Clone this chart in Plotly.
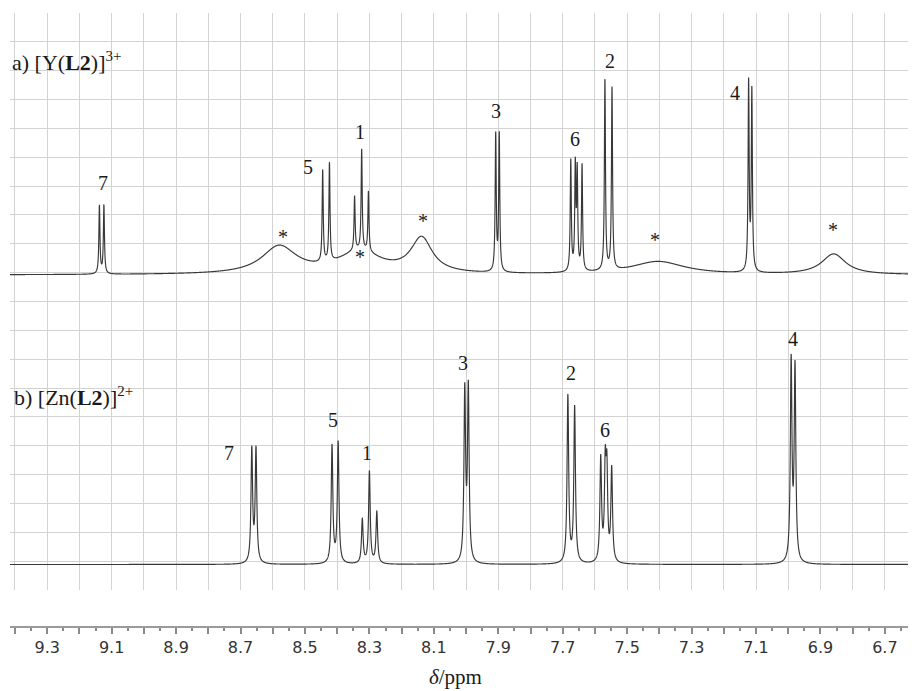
import numpy as np
import plotly.graph_objects as go

# ---------------- data ----------------
# chemical-shift axis
x_range = [9.4155, 6.6035]
tick_vals = [9.4, 9.3, 9.2, 9.1, 9.0, 8.9, 8.8, 8.7, 8.6, 8.5, 8.4, 8.3, 8.2, 8.1,
             8.0, 7.9, 7.8, 7.7, 7.6, 7.5, 7.4, 7.3, 7.2, 7.1, 7.0, 6.9, 6.8, 6.7]
tick_text = ["", "9.3", "", "9.1", "", "8.9", "", "8.7", "", "8.5", "", "8.3", "", "8.1",
             "", "7.9", "", "7.7", "", "7.5", "", "7.3", "", "7.1", "", "6.9", "", "6.7"]
minor_tick_vals = [9.35, 9.25, 9.15, 9.05, 8.95, 8.85, 8.75, 8.65, 8.55, 8.45, 8.35, 8.25,
                   8.15, 8.05, 7.95, 7.85, 7.75, 7.65, 7.55, 7.45, 7.35, 7.25, 7.15, 7.05,
                   6.95, 6.85, 6.75, 6.65]

# spectrum a) [Y(L2)]3+  (intensity in grid units)
a_baseline = 10.92
a_peak_ppm = [9.138, 9.124, 8.445, 8.424, 8.346, 8.324, 8.303, 7.908, 7.897,
              7.675, 7.661, 7.655, 7.640, 7.569, 7.547, 7.123, 7.113]
a_peak_top = [13.35, 13.35, 14.58, 14.83, 13.67, 15.29, 13.83, 15.89, 15.89,
              14.96, 15.02, 14.83, 14.79, 17.71, 17.45, 17.77, 17.47]
a_linewidth = 0.002
a_broad_ppm = [8.58, 8.33, 8.138, 7.404, 6.859]
a_broad_amp = [0.95, 0.75, 1.20, 0.45, 0.71]
a_broad_width = [0.065, 0.08, 0.040, 0.10, 0.045]

# spectrum b) [Zn(L2)]2+
b_baseline = 0.884
b_peak_ppm = [8.665, 8.652, 8.416, 8.397, 8.322, 8.300, 8.277, 8.004, 7.993,
              7.684, 7.663, 7.582, 7.568, 7.563, 7.548, 6.991, 6.979]
b_peak_top = [5.00, 5.00, 5.06, 5.18, 2.49, 4.14, 2.74, 7.20, 7.28,
              6.78, 6.41, 4.71, 5.00, 4.85, 4.33, 8.18, 7.97]
b_linewidth = 0.003

# peak assignments
a_labels = ["7", "5", "1", "3", "6", "2", "4"]
a_label_ppm = [9.128, 8.490, 8.329, 7.908, 7.661, 7.552, 7.164]
a_label_y = [14.12, 14.67, 15.87, 16.60, 15.62, 18.35, 17.24]
a_star_ppm = [8.569, 8.329, 8.135, 7.413, 6.861]
a_star_y = [12.36, 11.67, 12.94, 12.28, 12.63]
b_labels = ["7", "5", "1", "3", "2", "6", "4"]
b_label_ppm = [8.735, 8.412, 8.307, 8.010, 7.675, 7.568, 6.985]
b_label_y = [4.74, 5.89, 4.76, 7.86, 7.53, 5.55, 8.69]


# ---------------- line-shape synthesis ----------------
def lorentz(x, x0, w):
    return 1.0 / (1.0 + ((x - x0) / w) ** 2)


x = np.linspace(x_range[0], x_range[1], 16000)


def spectrum(baseline, ppm, top, w, b_ppm=(), b_amp=(), b_w=()):
    ppm = np.asarray(ppm)
    top = np.asarray(top)

    def broad(xx):
        out = np.zeros_like(np.asarray(xx, dtype=float))
        for c, a, bw in zip(b_ppm, b_amp, b_w):
            out = out + a * lorentz(xx, c, bw)
        return out

    A = lorentz(ppm[:, None], ppm[None, :], w)
    amps = np.linalg.solve(A, top - baseline - broad(ppm))
    y = baseline + broad(x)
    for c, a in zip(ppm, amps):
        y = y + a * lorentz(x, c, w)
    return y


ya = spectrum(a_baseline, a_peak_ppm, a_peak_top, a_linewidth,
              a_broad_ppm, a_broad_amp, a_broad_width)
yb = spectrum(b_baseline, b_peak_ppm, b_peak_top, b_linewidth)

line_color = "#383838"
grid_color = "#d3d3d3"
serif = "Liberation Serif"

fig = go.Figure()
fig.add_trace(go.Scatter(x=x, y=ya, mode="lines", line=dict(color=line_color, width=1.15, simplify=False),
                         showlegend=False, hoverinfo="skip"))
fig.add_trace(go.Scatter(x=x, y=yb, mode="lines", line=dict(color=line_color, width=1.15, simplify=False),
                         showlegend=False, hoverinfo="skip"))

ann = []
for t, px, py in zip(a_labels, a_label_ppm, a_label_y):
    ann.append(dict(x=px, y=py, text=t, showarrow=False, xanchor="center", yanchor="middle",
                    font=dict(family=serif, size=20, color="#1a1a1a")))
for px, py in zip(a_star_ppm, a_star_y):
    ann.append(dict(x=px, y=py, text="*", showarrow=False, xanchor="center", yanchor="middle",
                    yshift=-4, font=dict(family=serif, size=20, color="#1a1a1a")))
for t, px, py in zip(b_labels, b_label_ppm, b_label_y):
    ann.append(dict(x=px, y=py, text=t, showarrow=False, xanchor="center", yanchor="middle",
                    font=dict(family=serif, size=20, color="#1a1a1a")))
ann.append(dict(xref="paper", x=0.0, y=18.31,
                text="a) [Y(<b>L2</b>)]<sup><span style='font-size:15px'>3+</span></sup>",
                showarrow=False, xanchor="left", yanchor="middle",
                font=dict(family=serif, size=22, color="#1a1a1a")))
ann.append(dict(xref="paper", x=0.002, y=6.70,
                text="b) [Zn(<b>L2</b>)]<sup><span style='font-size:15px'>2+</span></sup>",
                showarrow=False, xanchor="left", yanchor="middle",
                font=dict(family=serif, size=22, color="#1a1a1a")))
ann.append(dict(xref="paper", yref="paper", x=0.4917, y=-0.0814, text="<i>δ</i>/ppm", showarrow=False,
                xanchor="center", yanchor="middle", font=dict(family=serif, size=21, color="#1a1a1a")))

# the page body adds an 8 px offset, so the figure is 8 px smaller each way
fig.update_layout(
    width=908, height=683,
    margin=dict(l=2, r=0, t=5, b=64),
    paper_bgcolor="white", plot_bgcolor="white",
    annotations=ann,
    xaxis=dict(range=x_range, anchor="free", position=0,
               tickmode="array", tickvals=tick_vals, ticktext=tick_text,
               ticks="outside", ticklen=6, tickwidth=1.5, tickcolor="#8a8a8a",
               showline=True, linecolor="#9a9a9a", linewidth=1.5,
               showgrid=True, gridcolor=grid_color, gridwidth=1.2, zeroline=False,
               tickfont=dict(family="DejaVu Sans", size=16, color="#333333"),
               minor=dict(tickmode="array", tickvals=minor_tick_vals, ticks="outside",
                          ticklen=3, tickwidth=1.5, tickcolor="#8a8a8a", showgrid=False)),
    yaxis=dict(range=[0, 20], domain=[0.0603, 1], tickmode="linear", tick0=0, dtick=1,
               showticklabels=False, ticks="", showgrid=True, gridcolor=grid_color,
               gridwidth=1.2, zeroline=False, showline=False),
)

fig.write_html("out.html")
